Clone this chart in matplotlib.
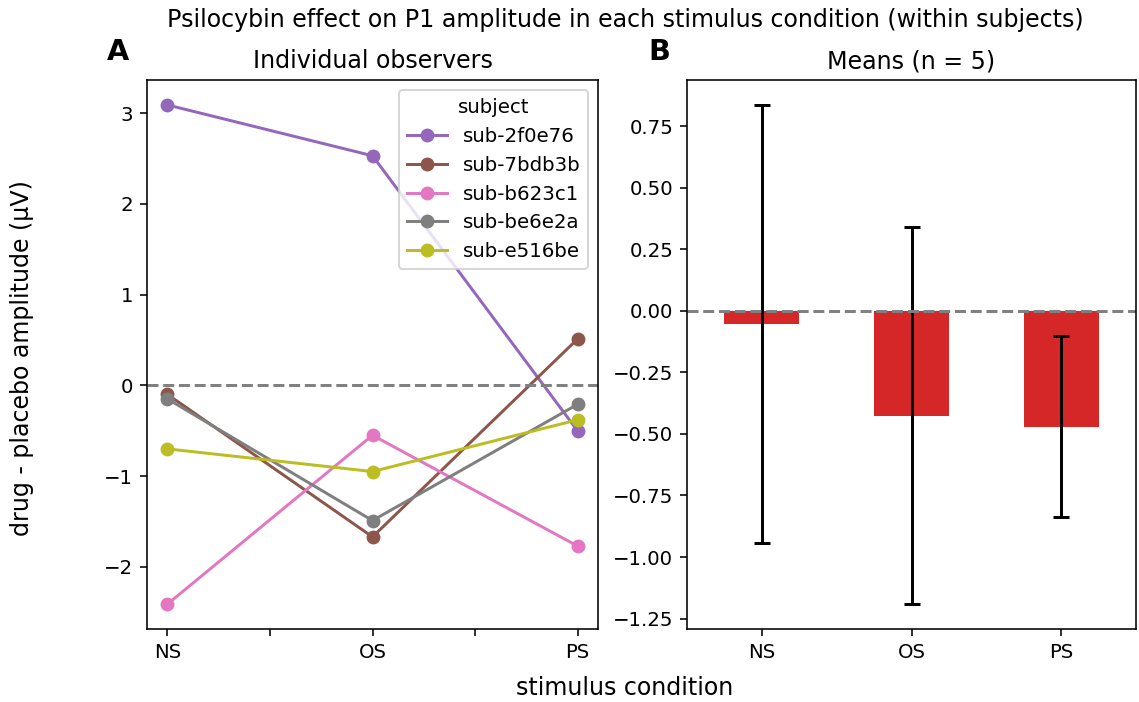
import numpy as np
import matplotlib
matplotlib.use("Agg")
import matplotlib.pyplot as plt

# conditions and per-subject drug - placebo amplitudes (µV)
conditions = ["NS", "OS", "PS"]
subjects = ["sub-2f0e76", "sub-7bdb3b", "sub-b623c1", "sub-be6e2a", "sub-e516be"]
sub_2f0e76 = [3.09, 2.53, -0.50]
sub_7bdb3b = [-0.10, -1.67, 0.51]
sub_b623c1 = [-2.41, -0.55, -1.77]
sub_be6e2a = [-0.15, -1.49, -0.21]
sub_e516be = [-0.70, -0.95, -0.38]
colors = ["tab:purple", "tab:brown", "tab:pink", "tab:gray", "tab:olive"]

diffs = np.array([sub_2f0e76, sub_7bdb3b, sub_b623c1, sub_be6e2a, sub_e516be])
means = diffs.mean(axis=0)
sems = diffs.std(axis=0, ddof=1) / np.sqrt(len(subjects))

DPI = 142.5
W, H = 1139, 702
fig = plt.figure(figsize=(W / DPI, H / DPI), dpi=DPI)
ax1 = fig.add_axes([147 / W, 1 - 629 / H, 451 / W, 549 / H])
ax2 = fig.add_axes([687 / W, 1 - 629 / H, 449 / W, 549 / H])

# A: individual observers
x = np.arange(len(conditions))
for name, vals, c in zip(subjects, diffs, colors):
    ax1.plot(x, vals, "-o", color=c, label=name)
ax1.axhline(0, color="gray", ls="--", lw=1.5)
ax1.set_xticks([0, 0.5, 1, 1.5, 2])
ax1.set_xticklabels(["NS", "", "OS", "", "PS"])
ax1.set_title("Individual observers")
ax1.legend(title="subject", loc="upper right")

# B: means with SEM
ax2.bar(x, means, width=0.5, color="#d62728")
ax2.errorbar(x, means, yerr=sems, fmt="none", ecolor="black", elinewidth=1.5,
             capsize=3.8, capthick=1.5)
ax2.axhline(0, color="gray", ls="--", lw=1.5)
ax2.set_xlim(-0.5, 2.5)
ax2.set_xticks(x)
ax2.set_xticklabels(conditions)
ax2.set_title("Means (n = 5)")

fig.text(118 / W, 1 - 52 / H, "A", fontsize=14.5, fontweight="bold", ha="center", va="center")
fig.text(659 / W, 1 - 52 / H, "B", fontsize=14.5, fontweight="bold", ha="center", va="center")
fig.suptitle("Psilocybin effect on P1 amplitude in each stimulus condition (within subjects)",
             x=625 / W, y=1 - 20 / H, va="center", fontsize=12)
fig.supxlabel("stimulus condition", x=625 / W, y=1 - 688 / H, va="center", fontsize=12)
fig.supylabel("drug - placebo amplitude (µV)", x=22 / W, y=1 - 358 / H, ha="center",
              va="center", fontsize=12)

fig.savefig("out.png", dpi=DPI)
